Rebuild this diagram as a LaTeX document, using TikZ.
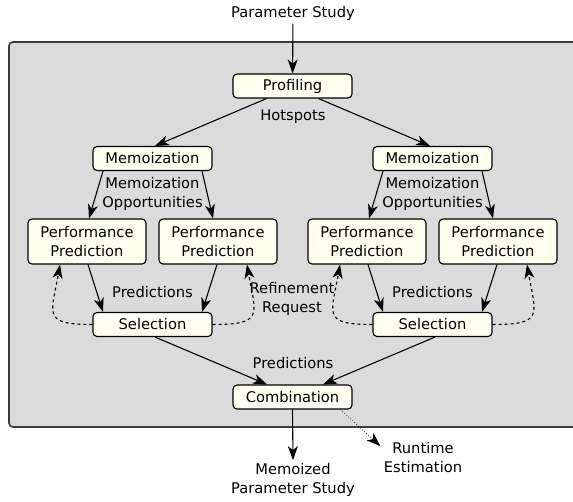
\documentclass[tikz,border=0pt]{standalone}
\usepackage{fontspec}
\setmainfont{DejaVu Sans}
\usetikzlibrary{arrows.meta}

\definecolor{boxfill}{HTML}{FFFFF0}
\definecolor{areafill}{HTML}{DBDBDB}
\definecolor{areadraw}{HTML}{3C3C3C}

\begin{document}
\begin{tikzpicture}[x=1pt,y=1pt,
	every node/.style={font=\fontsize{14.7}{18.5}\selectfont, align=center},
	stage/.style={draw, line width=1.1pt, rounded corners=4pt, fill=boxfill, minimum width=119pt, minimum height=24pt},
	predbox/.style={stage, minimum width=118pt, minimum height=45pt},
	flow/.style={line width=1.1pt, -{Stealth[length=14pt,width=10pt,inset=4pt]}},
	refine/.style={flow, dashed},
	estimate/.style={flow, line width=0.7pt, dotted}]
	\useasboundingbox (0,0) rectangle (573,-501);
	\clip (0,0) rectangle (573,-501);
	\draw [line width=1.6pt, draw=areadraw, fill=areafill, rounded corners=4pt] (9,-42) rectangle (590,-427);
	% input and profiling
	\node (param) at (293,-13) {Parameter Study};
	\node [stage] (prof) at (292.5,-86) {Profiling};
	\node (hot) at (293,-117) {Hotspots};
	% left branch
	\node [stage] (mem1) at (152.5,-158.5) {Memoization};
	\node (opp1) at (152.5,-194) {Memoization\\Opportunities};
	\node [predbox] (pp1) at (87,-241.5) {Performance\\Prediction};
	\node [predbox] (pp2) at (218,-241.5) {Performance\\Prediction};
	\node (pr1) at (152.5,-292) {Predictions};
	\node [stage] (sel1) at (152.5,-324.5) {Selection};
	% right branch
	\node [stage] (mem2) at (432.5,-158.5) {Memoization};
	\node (opp2) at (432.5,-194) {Memoization\\Opportunities};
	\node [predbox] (pp3) at (367,-241.5) {Performance\\Prediction};
	\node [predbox] (pp4) at (498,-241.5) {Performance\\Prediction};
	\node (pr2) at (432.5,-292) {Predictions};
	\node [stage] (sel2) at (432.5,-324.5) {Selection};
	\node (req) at (292,-299) {Refinement\\Request};
	% combination and outputs
	\node (pr3) at (293,-363) {Predictions};
	\node [stage] (comb) at (292.5,-397) {Combination};
	\node (out) at (293,-480) {Memoized\\Parameter Study};
	\node (rt) at (423,-457.5) {Runtime\\Estimation};

	\draw [flow] (param) -- (prof);
	\draw [flow] ([xshift=-26pt]prof.south) -- ([xshift=2.5pt]mem1.north);
	\draw [flow] ([xshift=26pt]prof.south) -- ([xshift=-2.5pt]mem2.north);

	\draw [flow] ([xshift=-49.5pt]mem1.south) -- ([xshift=2pt]pp1.north);
	\draw [flow] ([xshift=49.5pt]mem1.south) -- ([xshift=-5pt]pp2.north);
	\draw [flow] ([xshift=1pt]pp1.south) -- ([xshift=-49.5pt]sel1.north);
	\draw [flow] ([xshift=-1pt]pp2.south) -- ([xshift=49.5pt]sel1.north);
	\draw [refine] (sel1.west) to[out=180, in=-100, looseness=1.9] ([xshift=-27pt]pp1.south);
	\draw [refine] (sel1.east) to[out=0, in=-80, looseness=1.9] ([xshift=29pt]pp2.south);

	\draw [flow] ([xshift=-49.5pt]mem2.south) -- ([xshift=2pt]pp3.north);
	\draw [flow] ([xshift=49.5pt]mem2.south) -- ([xshift=-5pt]pp4.north);
	\draw [flow] ([xshift=1pt]pp3.south) -- ([xshift=-49.5pt]sel2.north);
	\draw [flow] ([xshift=-1pt]pp4.south) -- ([xshift=49.5pt]sel2.north);
	\draw [refine] (sel2.west) to[out=180, in=-100, looseness=1.9] ([xshift=-27pt]pp3.south);
	\draw [refine] (sel2.east) to[out=0, in=-80, looseness=1.9] ([xshift=29pt]pp4.south);

	\draw [flow] ([xshift=2.5pt]sel1.south) -- ([xshift=-25.5pt]comb.north);
	\draw [flow] ([xshift=2.5pt]sel2.south) -- ([xshift=30.5pt]comb.north);
	\draw [flow] (comb.south) -- (out.north);
	\draw [estimate] ([xshift=-12pt]comb.south east) -- (rt.165);
\end{tikzpicture}
\end{document}
